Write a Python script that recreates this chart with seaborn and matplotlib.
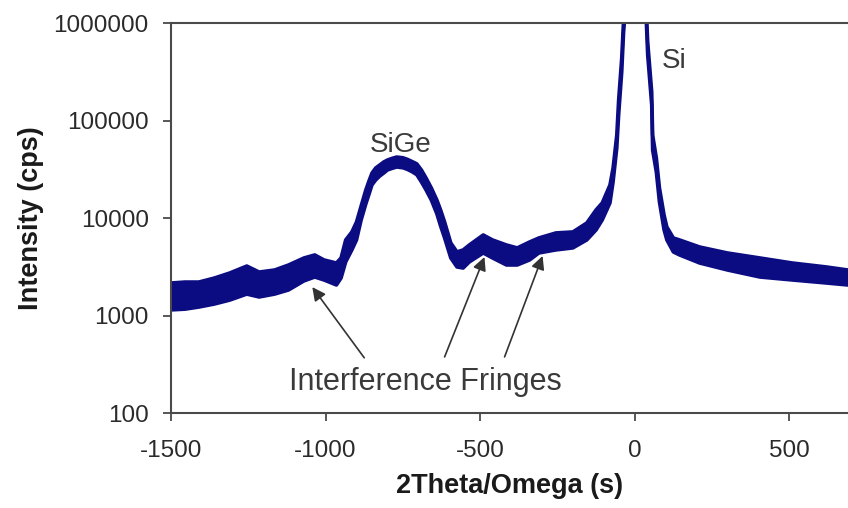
import numpy as np
import pandas as pd
import matplotlib
matplotlib.use("Agg")
import matplotlib.pyplot as plt
import seaborn as sns

# ---- data (2Theta/Omega in arc-seconds, intensity in cps) ----
two_theta = [-1500, -1455, -1410, -1360, -1310, -1255, -1215, -1165, -1120, -1070,
             -1035, -1005, -965, -950, -935, -915, -900, -885, -870, -860,
             -850, -838, -825, -812, -800, -785, -770, -750, -735, -720,
             -705, -690, -675, -658, -640, -628, -615, -595, -575,
             -555, -535, -490, -460, -415, -380, -340, -310, -255, -200,
             -155, -125, -105, -80, -70, -58, -52, -42, -36, -29,
             0, 36, 42, 55, 58, 70, 80, 95, 104, 125, 145,
             210, 300, 405, 510, 620, 690]
intensity_upper = [2170, 2220, 2220, 2440, 2750, 3240, 2810, 2950, 3320, 3920,
                   4210, 3740, 3480, 3920, 6000, 7250, 9170, 13400, 19500, 24000,
                   29100, 32800, 35200, 37800, 39600, 41200, 42500, 41800, 40200, 38200,
                   36200, 31300, 25900, 20500, 15400, 12200, 9170, 5590, 4520,
                   4740, 5330, 6750, 6000, 5330, 4970, 5720, 6290, 7080, 7250,
                   8960, 12200, 14400, 22000, 32800, 71400, 163000, 441000, 1080000, 1730000,
                   5000000, 1730000, 643000, 197000, 71400, 41500, 20500, 10800, 8150, 6290, 6000,
                   5080, 4410, 3920, 3480, 3170, 2950]
intensity_lower = [1150, 1170, 1230, 1320, 1450, 1670, 1560, 1670, 1840, 2280,
                   2500, 2330, 2070, 2440, 3570, 4740, 6000, 9620, 14000, 17500,
                   22000, 24700, 27100, 29100, 31300, 32500, 33600, 33000, 31700, 30000,
                   28000, 23600, 19500, 15400, 11100, 8340, 6290, 3920, 3170,
                   3090, 3570, 4410, 3920, 3320, 3320, 3740, 4410, 4740, 4970,
                   6000, 7600, 9620, 14400, 23600, 52600, 115000, 317000, 815000, 1540000,
                   4000000, 1370000, 473000, 145000, 50100, 29800, 14700, 7600, 6000, 4520, 4210,
                   3480, 2950, 2500, 2330, 2170, 2070]

x_ticks = [-1500, -1000, -500, 0, 500]
x_tick_labels = ["-1500", "-1000", "-500", "0", "500"]
y_ticks = [100, 1000, 10000, 100000, 1000000]
y_tick_labels = ["100", "1000", "10000", "100000", "1000000"]

peak_labels = ["SiGe", "Si"]
peak_label_x = [-758, 126]
peak_label_y = [56000, 410000]

fringe_text = "Interference Fringes"
fringe_text_pos = (-677, 209)
fringe_tips_x = [-1043, -486, -298]
fringe_tips_y = [1970, 4010, 4110]
fringe_tails_x = [-875, -615, -421]
fringe_tails_y = [371, 379, 379]

# ---- style ----
sns.set_theme(style="ticks")
plt.rcParams['font.family'] = ['Liberation Sans', 'DejaVu Sans']

navy = "#0b0b82"
grey_txt = "#3a3a3a"
axis_col = "#4a4a4a"

fig = plt.figure(figsize=(8.48, 5.08), dpi=100)
fig.patch.set_facecolor("white")
ax = fig.add_axes([0.2017, 0.1864, 0.7983, 0.7677])
ax.set_facecolor("white")

df = pd.DataFrame({
    "two_theta": two_theta * 2,
    "intensity": intensity_upper + intensity_lower,
    "edge": ["upper"] * len(two_theta) + ["lower"] * len(two_theta),
})
sns.lineplot(data=df, x="two_theta", y="intensity", units="edge", estimator=None,
             color=navy, lw=2.6, ax=ax, legend=False,
             solid_joinstyle="round", solid_capstyle="round")
ax.fill_between(two_theta, intensity_lower, intensity_upper, color=navy, lw=0)

ax.set_yscale("log")
ax.set_xlim(-1500, 690)
ax.set_ylim(100, 1000000)
ax.set_xticks(x_ticks)
ax.set_xticklabels(x_tick_labels)
ax.set_yticks(y_ticks)
ax.set_yticklabels(y_tick_labels)
ax.yaxis.set_minor_locator(matplotlib.ticker.NullLocator())

for s in ["left", "bottom", "top"]:
    ax.spines[s].set_color(axis_col)
    ax.spines[s].set_linewidth(1.5)
ax.spines["right"].set_visible(False)
ax.tick_params(axis="both", direction="out", length=6, width=1.3, color=axis_col,
               labelsize=17.5, labelcolor="#2a2a2a")
ax.tick_params(axis="x", pad=13)
ax.tick_params(axis="y", pad=10)

ax.set_xlabel("2Theta/Omega (s)", fontsize=19.5, fontweight="bold", color="#1a1a1a", labelpad=8)
ax.set_ylabel("Intensity (cps)", fontsize=19.5, fontweight="bold", color="#1a1a1a", labelpad=7)

for lab, lx, ly in zip(peak_labels, peak_label_x, peak_label_y):
    ax.text(lx, ly, lab, fontsize=20, color=grey_txt, ha="center", va="center")

ax.text(fringe_text_pos[0], fringe_text_pos[1], fringe_text, fontsize=22, color=grey_txt,
        ha="center", va="center")
for tx, ty, sx, sy in zip(fringe_tips_x, fringe_tips_y, fringe_tails_x, fringe_tails_y):
    ax.annotate("", xy=(tx, ty), xytext=(sx, sy),
                arrowprops=dict(arrowstyle="-|>", color="#333333", lw=1.2,
                                mutation_scale=20, shrinkA=0, shrinkB=0))

fig.savefig("out.png", dpi=100, facecolor="white")
